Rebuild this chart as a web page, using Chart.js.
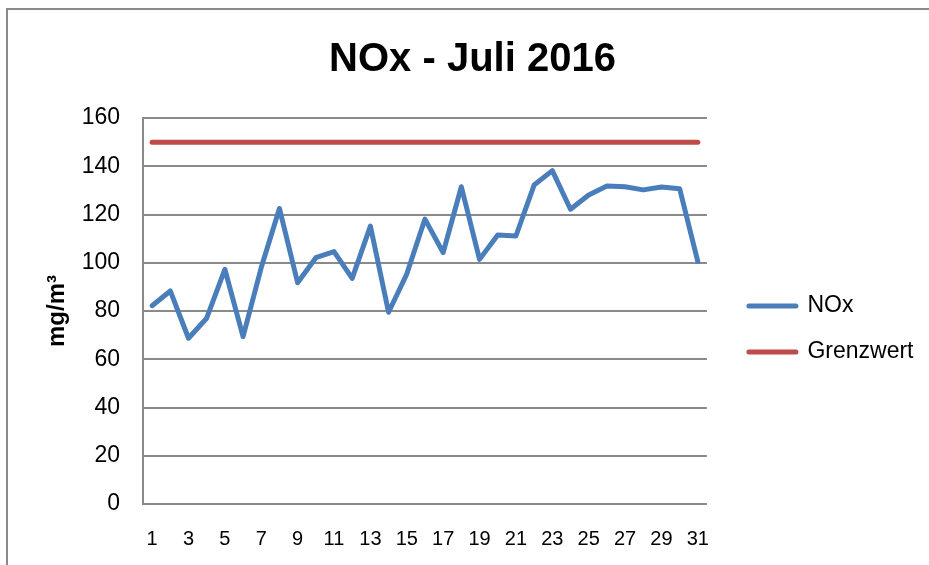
<!DOCTYPE html>
<html>
<head>
<meta charset="utf-8">
<script src="https://cdn.jsdelivr.net/npm/chart.js@4/dist/chart.umd.min.js"></script>
<style>
  html, body { margin: 0; padding: 0; background: #ffffff; overflow: hidden; }
  #wrap { position: relative; width: 929px; height: 565px; overflow: hidden; }
  #frame { position: absolute; left: 6px; top: 8px; width: 1200px; height: 1200px;
           border-top: 2px solid #8a8a8a; border-left: 2px solid #8a8a8a; box-sizing: border-box; }
  #c { position: absolute; left: 0; top: 0; }
</style>
</head>
<body>
<div id="wrap">
  <div id="frame"></div>
  <canvas id="c" width="929" height="565"></canvas>
</div>
<script>
const days = ['1','2','3','4','5','6','7','8','9','10','11','12','13','14','15','16','17','18','19','20','21','22','23','24','25','26','27','28','29','30','31'];
const noxValues = [82.2, 88.3, 68.7, 77.0, 97.3, 69.4, 98.0, 122.5, 91.7, 102.1, 104.6, 93.5, 115.2, 79.5, 95.3, 118.1, 104.2, 131.5, 101.4, 111.5, 111.1, 132.2, 138.2, 122.2, 128.1, 131.8, 131.5, 130.2, 131.4, 130.7, 100.5];
const grenzwertValues = [150, 150, 150, 150, 150, 150, 150, 150, 150, 150, 150, 150, 150, 150, 150, 150, 150, 150, 150, 150, 150, 150, 150, 150, 150, 150, 150, 150, 150, 150, 150];
const yTicks = [0, 20, 40, 60, 80, 100, 120, 140, 160];

const FONT = "'Liberation Sans', Arial, sans-serif";
const GRID = '#8a8a8a';

new Chart(document.getElementById('c'), {
  type: 'line',
  data: {
    labels: days,
    datasets: [
      { label: 'NOx', data: noxValues, borderColor: '#4a7ebb', backgroundColor: '#4a7ebb',
        borderWidth: 5, pointRadius: 0, pointHoverRadius: 0, tension: 0,
        borderCapStyle: 'round', borderJoinStyle: 'round' },
      { label: 'Grenzwert', data: grenzwertValues, borderColor: '#be4b48', backgroundColor: '#be4b48',
        borderWidth: 5, pointRadius: 0, pointHoverRadius: 0, tension: 0,
        borderCapStyle: 'round', borderJoinStyle: 'round' }
    ]
  },
  options: {
    responsive: false,
    animation: false,
    events: [],
    layout: { padding: { left: 21.5, right: 5.5, top: 0, bottom: 0 } },
    plugins: {
      title: {
        display: true, text: 'NOx - Juli 2016', color: '#000000',
        font: { family: FONT, size: 40, weight: 'bold', lineHeight: 1.2 },
        padding: { top: 36, bottom: 34 }
      },
      legend: {
        display: true, position: 'right', align: 'center', fullSize: false, maxWidth: 400,
        title: { display: true, text: '', padding: 0, font: { family: FONT, size: 12, lineHeight: 3 } },
        labels: {
          color: '#000000', boxWidth: 47, boxHeight: 0, padding: 23,
          font: { family: FONT, size: 23 }
        }
      },
      tooltip: { enabled: false }
    },
    scales: {
      x: {
        type: 'category',
        offset: true,
        grid: { display: false, drawTicks: false },
        border: { display: true, color: GRID, width: 2 },
        ticks: {
          autoSkip: false, maxRotation: 0, minRotation: 0, padding: 23, color: '#000000',
          font: { family: FONT, size: 20 },
          callback: function(v, i) { return i % 2 === 0 ? days[i] : ''; }
        },
        afterFit: function(s) { s.height = 61; }
      },
      y: {
        type: 'linear', position: 'left', min: 0, max: 160,
        afterBuildTicks: function(s) { s.ticks = yTicks.map(v => ({ value: v })); },
        grid: { display: true, color: GRID, lineWidth: 2, drawTicks: false },
        border: { display: true, color: GRID, width: 2 },
        ticks: { padding: 23, color: '#000000', font: { family: FONT, size: 23 } },
        title: {
          display: true, text: 'mg/m³', color: '#000000',
          font: { family: FONT, size: 24, weight: 'bold', lineHeight: 1.2 },
          padding: { top: 21, bottom: 0 }
        },
        afterFit: function(s) { s.width = 121.5; }
      },
      yRight: {
        type: 'linear', position: 'right', display: true,
        grid: { display: false, drawTicks: false },
        border: { display: false },
        ticks: { display: false },
        afterFit: function(s) { s.width = 19; }
      }
    }
  }
});
</script>
</body>
</html>
